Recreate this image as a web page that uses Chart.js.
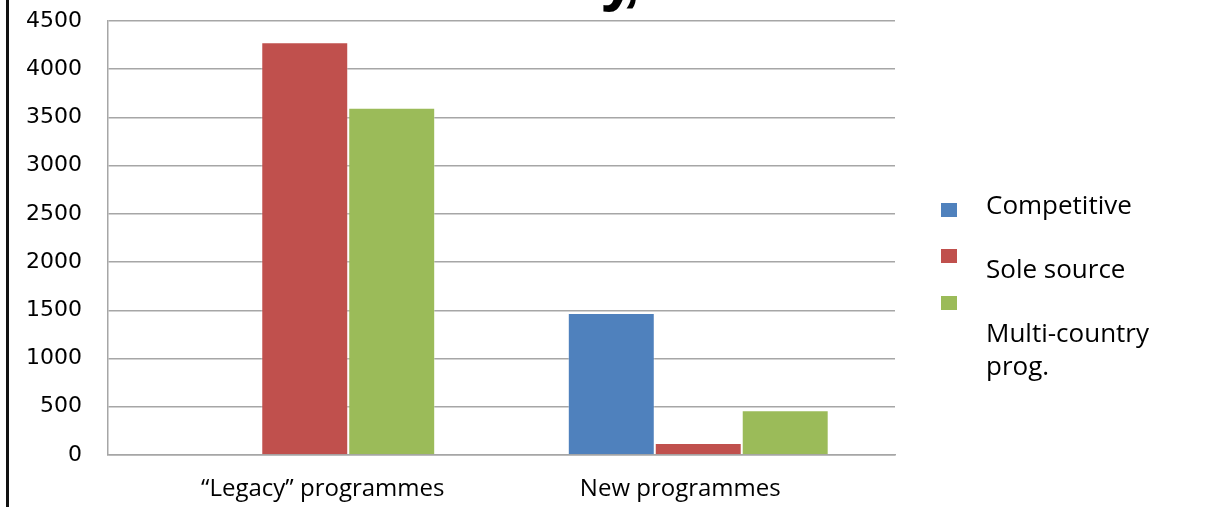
<!DOCTYPE html>
<html>
<head>
<meta charset="utf-8">
<script src="https://cdn.jsdelivr.net/npm/chart.js@4.4.1/dist/chart.umd.min.js"></script>
<style>
    html, body { margin: 0; padding: 0; background: #fff; }
    #wrap { position: relative; width: 1207px; height: 507px; overflow: hidden; }
    #frame { position: absolute; left: 6px; top: 0; width: 3px; height: 507px; background: #111; }
    #legend { position: absolute; left: 0; top: 0; font-family: "Open Sans", sans-serif; font-size: 26px; color: #000; }
    .swatch { position: absolute; width: 16px; height: 14px; }
    .label { position: absolute; left: 986px; line-height: 33px; white-space: nowrap; }
</style>
</head>
<body>
<div id="wrap">
    <canvas id="procChart" width="1207" height="507"></canvas>
    <div id="frame"></div>
    <div id="legend"></div>
</div>
<script>
// Chart data
const categories = ['\u201cLegacy\u201d programmes', 'New programmes'];
const seriesNames = ['Competitive', 'Sole source', 'Multi-country prog.'];
const competitive = [0, 1473];
const soleSource = [4280, 124];
const multiCountry = [3600, 463];
const seriesColors = ['#4F81BD', '#C0504D', '#9BBB59'];
const yTicks = [0, 500, 1000, 1500, 2000, 2500, 3000, 3500, 4000, 4500];

// Category labels sit a little off the bar groups in the original
const labelShift = [18, -18];

const chartText = {
    id: 'chartText',
    afterDraw(chart) {
        const ctx = chart.ctx;
        const x = chart.scales.x;
        ctx.save();
        // category labels
        ctx.font = '24px "Open Sans"';
        ctx.fillStyle = '#000';
        ctx.textAlign = 'center';
        ctx.textBaseline = 'alphabetic';
        categories.forEach(function(c, i) {
            ctx.fillText(c, x.getPixelForValue(i) + labelShift[i], 496);
        });
        // only the bottom of the title survives in the picture
        ctx.font = 'bold 66px "Liberation Sans"';
        ctx.textAlign = 'left';
        ctx.fillText('y', 600, -2);
        ctx.fillText(',', 622, -2);
        ctx.restore();
    }
};

const values = [competitive, soleSource, multiCountry];

new Chart(document.getElementById('procChart'), {
    type: 'bar',
    data: {
        labels: categories,
        datasets: seriesNames.map(function(name, i) {
            return {
                label: name,
                data: values[i],
                backgroundColor: seriesColors[i],
                borderColor: 'rgba(255,255,255,0.35)',
                borderWidth: 1,
                categoryPercentage: 0.663,
                barPercentage: 1.0
            };
        })
    },
    options: {
        responsive: false,
        animation: false,
        layout: { padding: { left: 25, right: 312, top: 21, bottom: 0 } },
        plugins: {
            legend: { display: false },
            title: { display: false },
            tooltip: { enabled: false }
        },
        scales: {
            x: {
                grid: { display: false, drawTicks: false },
                border: { display: true, color: '#a6a6a6', width: 1.5 },
                ticks: { display: false },
                afterFit: function(s) {
                    s.height = 52;
                    s.paddingLeft = 0; s.paddingRight = 0;
                }
            },
            y: {
                min: 0,
                max: 4500,
                afterBuildTicks: function(s) { s.ticks = yTicks.map(v => ({ value: v })); },
                grid: { color: '#a6a6a6', lineWidth: 1.5, drawTicks: false },
                border: { display: true, color: '#a6a6a6', width: 1.5 },
                ticks: {
                    padding: 26,
                    color: '#000',
                    font: { family: 'DejaVu Sans', size: 22 },
                    callback: function(v) { return String(v); }
                },
                afterFit: function(s) {
                    s.width = 83;
                    s.paddingTop = 0; s.paddingBottom = 0;
                }
            }
        }
    },
    plugins: [chartText]
});

// Legend, drawn as HTML beside the plot
const legend = document.getElementById('legend');
const swatchTops = [203, 249, 296];
seriesColors.forEach(function(c, i) {
    const sw = document.createElement('div');
    sw.className = 'swatch';
    sw.style.left = '941px';
    sw.style.top = swatchTops[i] + 'px';
    sw.style.background = c;
    legend.appendChild(sw);
});
const labelTops = [188, 252, 316];
const labelLines = [['Competitive'], ['Sole source'], ['Multi-country', 'prog.']];
labelLines.forEach(function(lines, i) {
    const el = document.createElement('div');
    el.className = 'label';
    el.style.top = labelTops[i] + 'px';
    el.innerHTML = lines.join('<br>');
    legend.appendChild(el);
});
</script>
</body>
</html>
